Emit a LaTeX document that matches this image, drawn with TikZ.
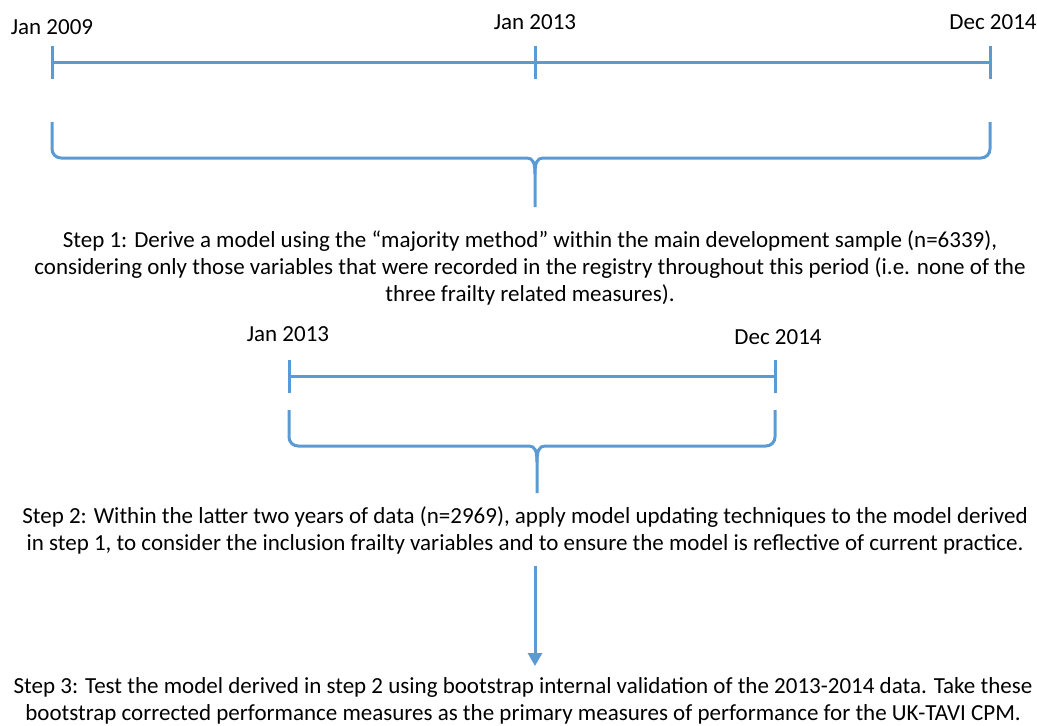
\documentclass[tikz,border=0pt]{standalone}
\usepackage{fontspec}
\setmainfont{Carlito}
\usetikzlibrary{arrows.meta}
\definecolor{lineblue}{RGB}{91,155,213}
\begin{document}
\begin{tikzpicture}[x=1pt,y=-1pt,
  lbl/.style={font=\fontsize{23}{27}\selectfont, inner sep=0pt},
  txt/.style={font=\fontsize{23}{27}\selectfont, align=center, inner sep=0pt},
  tl/.style={draw=lineblue, line width=3pt},
  arr/.style={-{Triangle[length=13pt,width=14pt]}, draw=lineblue, line width=3pt}
]
\useasboundingbox (0,0) rectangle (1037,726);

% first period
\node[lbl] (d09)  at (52,27)  {Jan 2009};
\node[lbl] (d13)  at (535,22) {Jan 2013};
\node[lbl] (d14)  at (993,22) {Dec 2014};
\coordinate (a1) at (52,62);
\coordinate (b1) at (535,62);
\coordinate (c1) at (990,62);
\draw[tl] (a1) -- (c1);
\draw[tl] ([yshift=-17pt]a1) -- ([yshift=16pt]a1);
\draw[tl] ([yshift=-17pt]b1) -- ([yshift=16pt]b1);
\draw[tl] ([yshift=-17pt]c1) -- ([yshift=16pt]c1);
\draw[tl] (52,122) [rounded corners=9pt] -- (52,158) [sharp corners] -- (527,158)
  .. controls (533,158) and (535,163) .. (535,174) -- (535,207);
\draw[tl] (990,122) [rounded corners=9pt] -- (990,158) [sharp corners] -- (543,158)
  .. controls (537,158) and (535,163) .. (535,174);

\node[txt] (s1) at (530,268) {Step 1: Derive a model using the \textquotedblleft majority method\textquotedblright\ within the main development sample (n=6339),\\
considering only those variables that were recorded in the registry throughout this period (i.e. none of the\\
three frailty related measures).};

% second period
\node[lbl] (e13) at (288,334) {Jan 2013};
\node[lbl] (e14) at (778,337) {Dec 2014};
\coordinate (a2) at (289,376);
\coordinate (c2) at (775,376);
\draw[tl] (a2) -- (c2);
\draw[tl] ([yshift=-17pt]a2) -- ([yshift=16pt]a2);
\draw[tl] ([yshift=-17pt]c2) -- ([yshift=16pt]c2);
\draw[tl] (289,410) [rounded corners=9pt] -- (289,446) [sharp corners] -- (529,446)
  .. controls (535,446) and (537,451) .. (537,462) -- (537,493);
\draw[tl] (775,410) [rounded corners=9pt] -- (775,446) [sharp corners] -- (545,446)
  .. controls (539,446) and (537,451) .. (537,462);

\node[txt] (s2) at (525,530) {Step 2: Within the latter two years of data (n=2969), apply model updating techniques to the model derived\\
in step 1, to consider the inclusion frailty variables and to ensure the model is reflective of current practice.};

\node[txt] (s3) at (523,701) {Step 3: Test the model derived in step 2 using bootstrap internal validation of the 2013-2014 data. Take these\\
bootstrap corrected performance measures as the primary measures of performance for the UK-TAVI CPM.};

\coordinate (ar1) at (535,566);
\coordinate (ar2) at (535,666);
\draw[arr] (ar1) -- (ar2);
\end{tikzpicture}
\end{document}
